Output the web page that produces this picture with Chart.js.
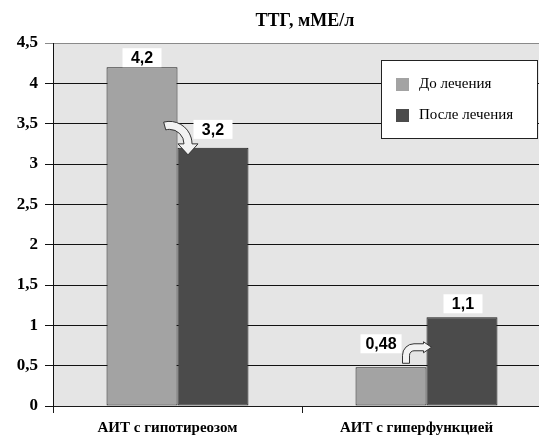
<!DOCTYPE html>
<html>
<head>
<meta charset="utf-8">
<script src="https://cdn.jsdelivr.net/npm/chart.js@4/dist/chart.umd.min.js"></script>
<style>
  html, body { margin: 0; padding: 0; overflow: hidden; background: #fff; }
  #wrap { width: 560px; height: 438px; }
</style>
</head>
<body>
<div id="wrap"><canvas id="chart"></canvas></div>
<script>
const titleText = 'ТТГ, мМЕ/л';
const categories = ['АИТ с гипотиреозом', 'АИТ с гиперфункцией'];
const seriesNames = ['До лечения', 'После лечения'];
const beforeValues = [4.2, 0.48];
const afterValues = [3.2, 1.1];
const yMax = 4.5;
const yStep = 0.5;

const COLORS = ['#a3a3a3', '#4b4b4b'];
const SERIF = '"Liberation Serif", "Times New Roman", serif';
const SANS = '"Liberation Sans", Arial, sans-serif';

// label box tweaks per [dataset][category]: horizontal shift, gap above bar
const LABEL_POS = [
  [{ dx: 0, gap: 0 }, { dx: -10, gap: 14 }],
  [{ dx: 0, gap: 9 }, { dx: 1, gap: 4 }],
];

const fmt = (v) => String(v).replace('.', ',');

function drawArrowDown(ctx, ox, oy) {
  // curved arrow going over the top and pointing down
  const cx = ox - 8, cy = oy - 4;
  const a0 = -105 * Math.PI / 180;
  ctx.beginPath();
  ctx.arc(cx, cy, 22.5, a0, 0, false);
  ctx.lineTo(ox + 20.5, oy - 4);
  ctx.lineTo(ox + 10.5, oy + 7);
  ctx.lineTo(ox + 0.5, oy - 4);
  ctx.lineTo(ox + 6.5, oy - 4);
  ctx.arc(cx, cy, 14.5, 0, a0, true);
  ctx.closePath();
  ctx.fill();
  ctx.stroke();
}

function drawArrowRight(ctx, ox, oy) {
  // stem going up, bending right
  const cx = ox - 12.5, cy = oy - 12;
  ctx.beginPath();
  ctx.moveTo(ox - 24, oy - 4);
  ctx.lineTo(ox - 24, oy - 12);
  ctx.arc(cx, cy, 11.5, Math.PI, 1.5 * Math.PI, false);
  ctx.lineTo(ox - 3, oy - 23.5);
  ctx.lineTo(ox - 3, oy - 25.5);
  ctx.lineTo(ox + 5, oy - 20);
  ctx.lineTo(ox - 3, oy - 14.5);
  ctx.lineTo(ox - 3, oy - 16.5);
  ctx.lineTo(ox - 12.5, oy - 16.5);
  ctx.arc(cx, cy, 4.5, 1.5 * Math.PI, Math.PI, true);
  ctx.lineTo(ox - 17, oy - 4);
  ctx.closePath();
  ctx.fill();
  ctx.stroke();
}

const decorPlugin = {
  id: 'decor',
  beforeDraw(chart) {
    const { ctx, chartArea: a } = chart;
    ctx.save();
    ctx.fillStyle = '#ffffff';
    ctx.fillRect(0, 0, chart.width, chart.height);
    ctx.fillStyle = '#e5e5e5';
    ctx.fillRect(a.left, a.top, a.right - a.left, a.bottom - a.top);
    ctx.restore();
  },
  afterDatasetsDraw(chart) {
    const { ctx } = chart;
    const m0 = chart.getDatasetMeta(0).data;
    const m1 = chart.getDatasetMeta(1).data;

    ctx.save();
    ctx.fillStyle = '#f2f2f2';
    ctx.strokeStyle = '#333';
    ctx.lineWidth = 1;
    drawArrowDown(ctx, m0[0].x + m0[0].width / 2, m1[0].y);
    drawArrowRight(ctx, m0[1].x + m0[1].width / 2, m0[1].y);

    ctx.font = 'bold 16px ' + SANS;
    ctx.textAlign = 'center';
    ctx.textBaseline = 'middle';
    [m0, m1].forEach((bars, di) => {
      bars.forEach((bar, i) => {
        const pos = LABEL_POS[di][i];
        const txt = fmt(chart.data.datasets[di].data[i]);
        const w = Math.max(ctx.measureText(txt).width + 10, 39);
        const h = 19;
        const x = bar.x + pos.dx;
        const bottom = bar.y - pos.gap;
        ctx.fillStyle = '#ffffff';
        ctx.fillRect(x - w / 2, bottom - h, w, h);
        ctx.fillStyle = '#000';
        ctx.fillText(txt, x, bottom - h / 2 + 1);
      });
    });
    ctx.restore();
  },
  afterDraw(chart) {
    const { ctx, chartArea: a } = chart;
    ctx.save();
    // title
    ctx.fillStyle = '#000';
    ctx.font = 'bold 18px ' + SERIF;
    ctx.textAlign = 'center';
    ctx.textBaseline = 'middle';
    ctx.fillText(titleText, (a.left + a.right) / 2 + 3, 21);

    // legend box
    const lx = a.left + 328, ly = a.top + 17, lw = 156, lh = 78;
    ctx.fillStyle = '#fff';
    ctx.fillRect(lx, ly, lw, lh);
    ctx.strokeStyle = '#222';
    ctx.lineWidth = 1;
    ctx.strokeRect(lx + 0.5, ly + 0.5, lw, lh);
    ctx.font = '15px ' + SERIF;
    ctx.textAlign = 'left';
    seriesNames.forEach((name, i) => {
      const sy = ly + 18 + i * 31;
      ctx.fillStyle = COLORS[i];
      ctx.fillRect(lx + 15, sy, 13, 13);
      ctx.fillStyle = '#000';
      ctx.fillText(name, lx + 38, sy + 6);
    });
    ctx.restore();
  },
};

const ctx = document.getElementById('chart').getContext('2d');
new Chart(ctx, {
  type: 'bar',
  data: {
    labels: categories,
    datasets: [
      { label: seriesNames[0], data: beforeValues, backgroundColor: COLORS[0] },
      { label: seriesNames[1], data: afterValues, backgroundColor: COLORS[1] },
    ],
  },
  options: {
    responsive: true,
    maintainAspectRatio: false,
    animation: false,
    layout: { padding: { top: 43, right: 9, left: 0, bottom: 0 } },
    datasets: {
      bar: {
        borderColor: '#1a1a1a',
        borderWidth: 1,
        borderSkipped: false,
        categoryPercentage: 0.57,
        barPercentage: 1,
      },
    },
    plugins: {
      legend: { display: false },
      title: { display: false },
      tooltip: { enabled: false },
    },
    scales: {
      x: {
        afterFit: (s) => { s.height = 32; },
        grid: {
          offset: true,
          drawOnChartArea: false,
          drawTicks: true,
          tickLength: 7,
          color: '#1a1a1a',
        },
        border: { color: '#1a1a1a', width: 1 },
        ticks: {
          color: '#000',
          font: { family: SERIF, size: 15, weight: 'bold' },
          padding: 6,
          labelOffset: -10,
          maxRotation: 0,
          autoSkip: false,
        },
      },
      y: {
        min: 0,
        max: yMax,
        afterFit: (s) => { s.width = 53; },
        grid: {
          color: (c) => (c.tick && c.tick.value === yMax ? '#8a8a8a' : '#111'),
          tickLength: 8,
          lineWidth: 1,
        },
        border: { color: '#111', width: 1 },
        ticks: {
          stepSize: yStep,
          color: '#000',
          padding: 7,
          font: { family: SERIF, size: 17, weight: 'bold' },
          callback: (v) => fmt(v),
        },
      },
    },
  },
  plugins: [decorPlugin],
});
</script>
</body>
</html>
